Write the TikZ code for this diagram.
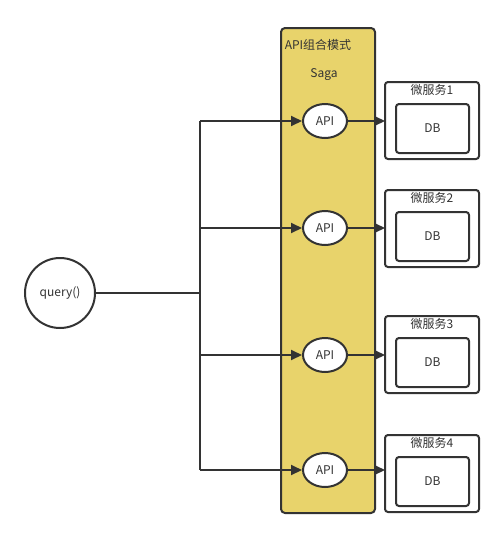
\documentclass[tikz,border=0pt]{standalone}
\usepackage{fontspec}
\setmainfont{Noto Sans CJK SC}
\usetikzlibrary{arrows.meta,shapes.geometric}
\definecolor{ink}{HTML}{333333}
\definecolor{sagafill}{HTML}{E8D36B}
\tikzset{
  px/.style={x=1pt,y=-1pt},
  wire/.style={draw=ink,line width=2pt},
  arr/.style={wire,-{Triangle[length=11pt,width=10pt]}},
  apinode/.style={ellipse,draw=ink,line width=2pt,fill=white,minimum width=44pt,minimum height=34pt,inner sep=0pt,font=\fontsize{12}{14}\selectfont,text=ink},
  svcbox/.style={draw=ink,line width=2pt,rounded corners=3pt,fill=white},
  lbl/.style={font=\fontsize{12}{14}\selectfont,text=ink,inner sep=0pt},
}
\begin{document}
\begin{tikzpicture}[px]
\useasboundingbox (0,0) rectangle (503,539);
% Saga container
\draw[draw=ink,line width=2pt,fill=sagafill,rounded corners=4pt] (281,28) rectangle (375,513);
\node[lbl] (title) at (318,45) {API组合模式};
\node[lbl] (saga) at (324,75) {Saga};
% query node
\node[circle,draw=ink,line width=2pt,minimum size=70pt,inner sep=0pt,font=\fontsize{12}{14}\selectfont,text=ink] (q) at (60,293) {query()};
\coordinate (hub) at (200,293);
\draw[draw=ink,line width=2.8pt] (q.east) -- (hub);
% API nodes and services
\foreach \i/\y/\top in {1/121/82,2/228/190,3/355/316,4/470/435}{
  \node[apinode] (api\i) at (325,\y) {API};
  \coordinate (br\i) at (200,\y);
  \draw[svcbox] (385,\top) rectangle (479,\top+77);
  \coordinate (svc\i) at (385,\y);
  \node[lbl] (svcname\i) at (432,\top+8) {微服务\i};
  \node[svcbox,minimum width=73pt,minimum height=49pt,inner sep=0pt,font=\fontsize{12}{14}\selectfont,text=ink] (db\i) at (432.5,\top+46.5) {DB};
  \draw[arr] (br\i) -- (api\i.west);
  \draw[arr] (api\i.east) -- (svc\i);
}
\draw[wire] (br1) -- (br4);
\end{tikzpicture}
\end{document}
